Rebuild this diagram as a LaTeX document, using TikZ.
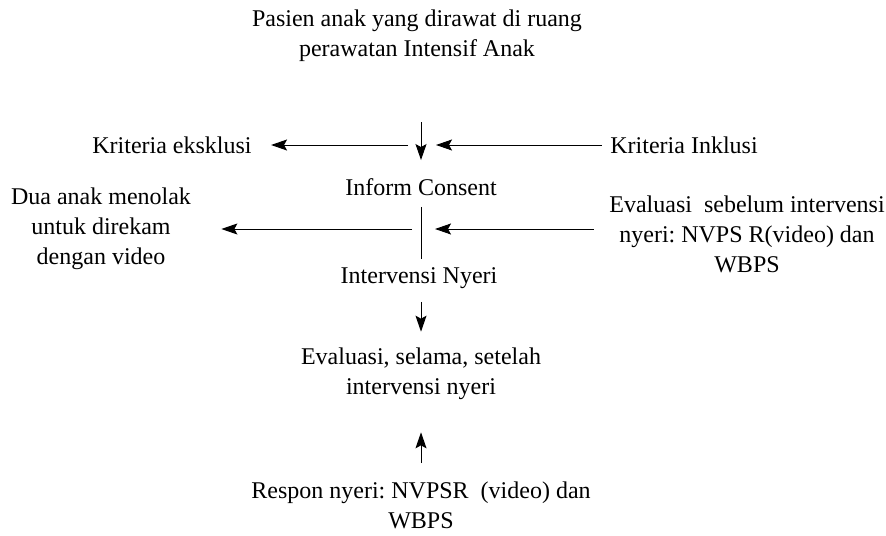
\documentclass[tikz,border=0pt]{standalone}
\usepackage{fontspec}
\setmainfont{Liberation Serif}
\frenchspacing
\usetikzlibrary{arrows.meta}
\tikzset{
  txt/.style={inner sep=0pt, align=center, font=\fontsize{12}{15}\selectfont},
  arr/.style={-{Stealth[length=8pt,width=5.5pt,inset=1.5pt]}, line width=0.5pt},
}
\begin{document}
\begin{tikzpicture}[x=0.5pt,y=-0.5pt]
    \useasboundingbox (0,0) rectangle (886,535);
    % Knoten
    \node[txt] (title)   at (417,36)  {Pasien anak yang dirawat di ruang\\perawatan Intensif Anak};
    \node[txt] (inform)  at (421,187) {Inform Consent};
    \node[txt] (interv)  at (419,278) {Intervensi Nyeri};
    \node[txt] (eval)    at (421,374) {Evaluasi, selama, setelah\\intervensi nyeri};
    \node[txt] (respon)  at (421,505) {Respon nyeri: NVPSR\ \ (video) dan\\WBPS};
    \node[txt] (eks)     at (172,145) {Kriteria eksklusi};
    \node[txt] (inkl)    at (684,145) {Kriteria Inklusi};
    \node[txt] (tolak)   at (101,229) {Dua anak menolak\\untuk direkam\\dengan video};
    \node[txt] (sebelum) at (747,234) {Evaluasi\ \ sebelum intervensi\\nyeri: NVPS R(video) dan\\WBPS};
    % Punkte
    \coordinate (top) at (421,122);
    \coordinate (j1l) at (408,145);
    \coordinate (j1r) at (436,145);
    \coordinate (j2l) at (412,229);
    \coordinate (j2r) at (435,229);
    % Pfeile
    \draw[arr, shorten >=9pt] (top) -- (inform.north);
    \draw[line width=0.5pt, shorten <=5.5pt, shorten >=4pt] (inform.south) -- (inform.south |- interv.north);
    \draw[arr, shorten <=6.5pt, shorten >=8pt] (inform.south |- interv.south) -- (eval.north);
    \draw[arr, shorten <=9pt, shorten >=16pt] (respon.north) -- (eval.south);
    \draw[arr, shorten >=9.5pt] (j1l) -- (eks.east);
    \draw[arr, shorten <=4pt] (inkl.west) -- (j1r);
    \draw[arr, shorten >=15pt] (j2l) -- (tolak.east);
    \draw[arr, shorten <=7.5pt] (sebelum.west |- j2r) -- (j2r);
\end{tikzpicture}
\end{document}
